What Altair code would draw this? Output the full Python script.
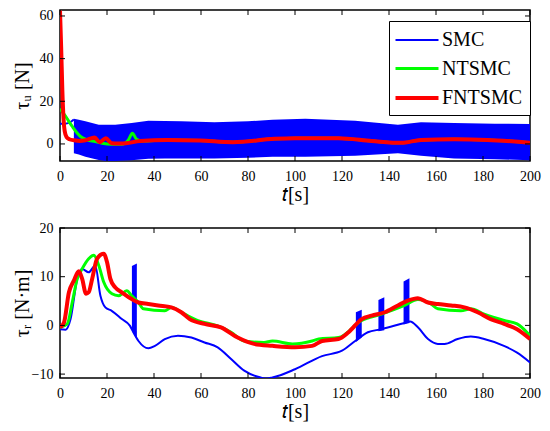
import altair as alt
import pandas as pd

FONT = "Liberation Serif"
W, H1, H2 = 470, 151, 150

series_names = ["SMC", "NTSMC", "FNTSMC"]
series_colors = ["#0000ff", "#00ff00", "#ff0000"]
x_ticks = [0, 20, 40, 60, 80, 100, 120, 140, 160, 180, 200]
top_y_ticks = [0, 20, 40, 60]
bot_y_ticks = [-10, 0, 10, 20]

# ---------------- top panel: tau_u ----------------
t_u_smc_line = [0, 2, 4, 5.9]
u_smc_line = [9.5, 9.5, 10.0, 11.5]

t_u_smc_band = [5.9, 8, 10.8, 16.5, 19.3, 23.5, 30.5, 37.6, 44.6, 51.6, 65.7, 80, 90.4, 104.4, 125.6, 143.8, 153.6, 167.7, 185, 200]
u_smc_upper = [11.8, 11.3, 10.6, 9.0, 9.0, 9.0, 9.8, 10.9, 10.8, 10.6, 10.2, 10.6, 11.3, 11.8, 10.9, 9.0, 10.2, 9.8, 9.5, 9.3]
u_smc_lower = [-4.4, -5.0, -6.0, -7.5, -8.0, -8.0, -7.6, -7.0, -6.8, -6.8, -6.8, -6.5, -6.0, -6.0, -5.5, -4.4, -5.5, -6.8, -7.2, -7.6]

t_u_ntsmc = [0, 2.4, 5.2, 8.7, 11.5, 15, 17.9, 22, 26.3, 29.1, 30.8, 32.6, 34.8, 45.6, 59.6, 73.7, 91.3, 100, 118.5, 132.6, 145.2, 153.6, 167.7, 181.8, 200]
u_ntsmc = [16.5, 12.9, 8.2, 3.5, 1.9, 1.1, 0.3, -0.2, -0.2, 1.9, 5.0, 2.2, 1.4, 1.9, 1.6, 0.8, 2.4, 2.7, 2.7, 1.4, 0.5, 1.9, 2.2, 1.9, 0.6]

t_u_fntsmc = [0, 0.5, 1, 1.5, 2, 2.8, 4, 6, 8.4, 11, 14.7, 16.9, 19.5, 22, 25, 28, 34, 45.6, 59.6, 73.7, 91.3, 100, 118.5, 132.6, 145.2, 153.6, 167.7, 181.8, 200]
u_fntsmc = [62.5, 45, 25, 12, 6, 3.2, 2.2, 1.7, 1.4, 1.8, 3.0, 0.8, 2.7, 0.3, 0.2, 0.3, 1.4, 1.9, 1.6, 0.8, 2.4, 2.7, 2.7, 1.4, 0.5, 1.9, 2.2, 1.9, 0.6]

# ---------------- bottom panel: tau_r ----------------
t_r_smc = [0, 2.4, 4.5, 7.3, 9.4, 12.2, 15, 17.2, 19.3, 22, 26.3, 29.8, 31.2, 33.4, 37.6, 40.4, 44.6, 50.2, 55.9, 61.5, 67.1, 72.8, 78.4, 85.4, 88, 90.4, 100, 111.5, 120, 125.6, 131, 136.6, 146.6, 149, 152.3, 156.6, 160.8, 163.6, 169.2, 174.8, 180.5, 188.9, 194.5, 200]
r_smc = [-0.8, -0.9, 1.3, 9.5, 11.6, 10.9, 12.3, 6.1, 3.7, 3.0, 1.3, -0.1, -1.4, -3.2, -4.7, -4.2, -2.8, -2.1, -2.5, -3.5, -4.5, -6.9, -9.3, -10.7, -10.9, -10.7, -9.0, -6.3, -5.2, -3.2, -1.4, -0.8, 0.5, 0.8, -0.4, -2.8, -3.8, -3.8, -2.8, -2.3, -2.8, -4.2, -5.6, -7.6]

spike_id = [1, 1, 2, 2, 3, 3, 4, 4]
spike_t = [30.6, 32.7, 125.9, 128.4, 135.5, 138.0, 146.2, 148.7]
spike_lo = [-1.1, -2.9, -3.4, -2.5, -1.2, -1.0, 0.2, 0.5]
spike_hi = [12.2, 12.7, 2.7, 3.2, 5.2, 5.8, 9.0, 9.7]

t_r_ntsmc = [0, 3.1, 5.2, 7.3, 9.4, 12.2, 14.4, 16.5, 18.6, 22.1, 24.9, 28.4, 30.5, 33.4, 35.5, 44.6, 47.4, 53.1, 58.7, 67.1, 72.8, 78.4, 86.8, 90.4, 98.9, 107.3, 110.1, 118.5, 128.4, 136.8, 146.6, 152.3, 157.9, 160.8, 170.6, 174.8, 180.5, 189, 194.5, 200]
r_ntsmc = [-0.4, 0.3, 4.7, 9.5, 11.6, 13.7, 14.4, 12.3, 8.9, 6.5, 6.1, 7.1, 6.1, 4.7, 3.4, 3.0, 3.7, 2.3, 1.0, -0.1, -1.4, -3.2, -3.5, -3.2, -3.8, -3.2, -2.8, -2.5, 1.0, 2.3, 4.1, 5.3, 4.4, 3.4, 3.0, 3.4, 2.3, 1.0, 0.3, -2.1]

t_r_fntsmc = [0, 1.7, 3.8, 5.9, 8, 9.4, 11.1, 12.2, 13.7, 15.8, 18.6, 20, 21.4, 23.5, 26.3, 30.5, 33.4, 37.6, 41.8, 47.4, 51.6, 55.2, 61.5, 68.5, 75.6, 82.6, 90.4, 100, 107.3, 111.5, 118.5, 122.8, 128.4, 132.6, 138.2, 143.8, 148, 152.3, 156.6, 160.8, 166.4, 172.1, 177.7, 183.3, 189, 194.5, 200]
r_fntsmc = [-0.4, 0.6, 6.8, 9.2, 11.1, 9.6, 6.5, 6.8, 9.6, 13.7, 14.7, 13, 9.6, 7.8, 6.8, 5.4, 4.7, 4.4, 4.1, 3.7, 2.7, 1.3, 0.3, -0.4, -2.5, -3.8, -4.2, -4.5, -4.2, -3.2, -2.8, -1.4, 1.3, 2.0, 2.7, 4.1, 5.1, 5.6, 4.7, 4.4, 4.1, 3.7, 2.7, 1.3, 0.3, -0.8, -2.8]

# ---------------- build tables ----------------
def long(ts, vs, name):
    return pd.DataFrame({"t": ts, "v": vs, "series": name})

top_lines = pd.concat([
    long(t_u_smc_line, u_smc_line, "SMC"),
    long(t_u_ntsmc, u_ntsmc, "NTSMC"),
    long(t_u_fntsmc, u_fntsmc, "FNTSMC"),
], ignore_index=True)
top_band = pd.DataFrame({"t": t_u_smc_band, "lo": u_smc_lower, "hi": u_smc_upper})

bot_lines = pd.concat([
    long(t_r_smc, r_smc, "SMC"),
    long(t_r_ntsmc, r_ntsmc, "NTSMC"),
    long(t_r_fntsmc, r_fntsmc, "FNTSMC"),
], ignore_index=True)
bot_spikes = pd.DataFrame({"id": spike_id, "t": spike_t, "lo": spike_lo, "hi": spike_hi})

order_map = {n: i for i, n in enumerate(series_names)}
top_lines["ord"] = top_lines["series"].map(order_map)
bot_lines["ord"] = bot_lines["series"].map(order_map)

x_dom = [0, 200]
top_dom = [-8, 62.8]
bot_dom = [-10.8, 20]

xscale = alt.Scale(domain=x_dom, nice=False, zero=False)

X_AXIS = alt.Axis(values=x_ticks, title="𝑡[s]", labelPadding=8, titlePadding=1, labelFlush=False)

def y_axis(title, vals):
    return alt.Axis(values=vals, title=title, labelPadding=7, titlePadding=2,
                    minExtent=26, maxExtent=26)

color_scale = alt.Scale(domain=series_names, range=series_colors)
width_scale = alt.Scale(domain=series_names, range=[2, 4, 4])


def panel(lines_df, area_df, area_detail, ydom, yticks, ytitle, h, legend):
    ys = alt.Scale(domain=ydom, nice=False, zero=False)
    yax = y_axis(ytitle, yticks)
    xe = alt.X("t:Q", scale=xscale, axis=X_AXIS)
    enc_area = dict(x=xe, y=alt.Y("lo:Q", scale=ys, axis=yax), y2="hi:Q")
    if area_detail:
        enc_area["detail"] = area_detail
    area = alt.Chart(area_df).mark_area(color="#0000ff", clip=True, opacity=1).encode(**enc_area)
    lines = alt.Chart(lines_df).mark_line(clip=True, interpolate="monotone").encode(
        x=xe,
        y=alt.Y("v:Q", scale=ys, axis=yax),
        color=alt.Color("series:N", scale=color_scale, sort=series_names, legend=legend),
        strokeWidth=alt.StrokeWidth("series:N", scale=width_scale, legend=None),
        detail="series:N",
        order="ord:Q",
    )
    xt = pd.DataFrame({"t": x_ticks})
    yt = pd.DataFrame({"v": yticks})
    yv = alt.Y("v:Q", scale=ys, axis=yax)
    rule = dict(color="black", strokeWidth=1)
    a = alt.Chart(xt).mark_rule(**rule).encode(x=xe, y=alt.value(0), y2=alt.value(5))
    b = alt.Chart(xt).mark_rule(**rule).encode(x=xe, y=alt.value(h - 5), y2=alt.value(h))
    c = alt.Chart(yt).mark_rule(**rule).encode(y=yv, x=alt.value(0), x2=alt.value(5))
    d = alt.Chart(yt).mark_rule(**rule).encode(y=yv, x=alt.value(W - 5), x2=alt.value(W))
    return alt.layer(area, lines, a, b, c, d).properties(width=W, height=h)


legend = alt.Legend(title=None, orient="none", legendX=329, legendY=11,
                    symbolType="M-2,0H2", symbolSize=462, symbolStrokeWidth=4,
                    symbolOffset=8, labelFont=FONT, labelFontSize=20, labelOffset=12,
                    strokeColor="black", fillColor="white", padding=7,
                    rowPadding=6, labelColor="black")

top = panel(top_lines, top_band, None, top_dom, top_y_ticks, "τᵤ [N]", H1, legend)
bottom = panel(bot_lines, bot_spikes, "id:N", bot_dom, bot_y_ticks, "τᵣ [N·m]", H2, None)

chart = alt.vconcat(top, bottom, spacing=15).resolve_scale(
    color="independent", strokeWidth="independent"
).properties(
    padding={"left": 3, "top": 0, "right": 0, "bottom": 3}
).configure_view(stroke="black", strokeWidth=1.5).configure_axis(
    labelFont=FONT, labelFontSize=14, titleFont=FONT, titleFontSize=20, titleFontWeight="normal",
    ticks=False, domain=False, grid=False, labelColor="black", titleColor="black",
)

chart.save("out.html", embed_options={"renderer": "svg", "actions": False})
